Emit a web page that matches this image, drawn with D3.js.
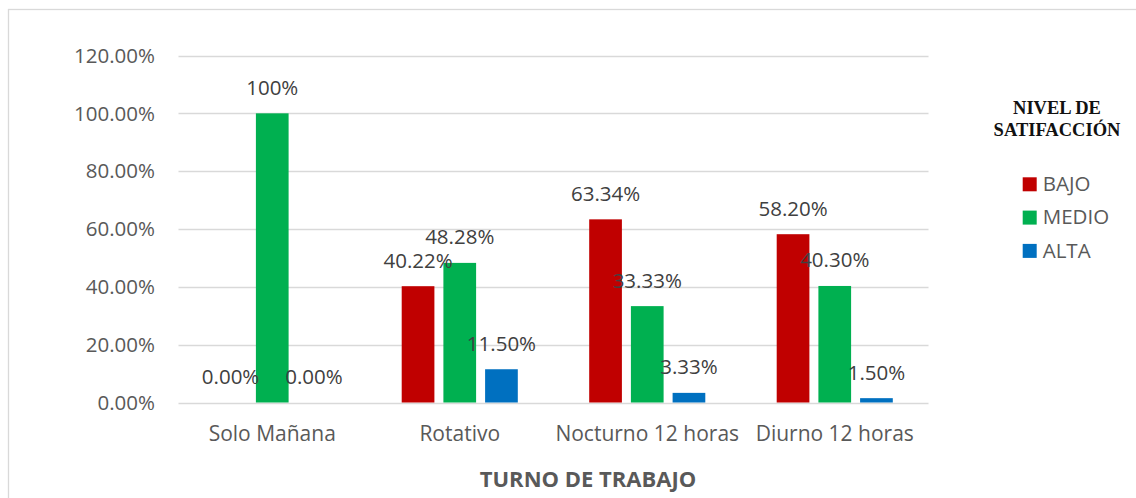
<!DOCTYPE html>
<html>
<head>
<meta charset="utf-8">
<script src="https://cdn.jsdelivr.net/npm/d3@7"></script>
<style>
  html, body { margin: 0; padding: 0; background: #fff; }
  svg { display: block; }
</style>
</head>
<body>
<svg id="chart" width="1136" height="498"></svg>
<script>
const categories = ["Solo Mañana", "Rotativo", "Nocturno 12 horas", "Diurno 12 horas"];
const seriesNames = ["BAJO", "MEDIO", "ALTA"];
const bajo  = [0.00, 40.22, 63.34, 58.20];
const medio = [100, 48.28, 33.33, 40.30];
const alta  = [0.00, 11.50, 3.33, 1.50];
const labelsBajo  = ["0.00%", "40.22%", "63.34%", "58.20%"];
const labelsMedio = ["100%", "48.28%", "33.33%", "40.30%"];
const labelsAlta  = ["0.00%", "11.50%", "3.33%", "1.50%"];
const yTicks = [0, 20, 40, 60, 80, 100, 120];
const colors = ["#C00000", "#00B050", "#0070C0"];
const xTitle = "TURNO DE TRABAJO";
const legendTitle = ["NIVEL DE", "SATIFACCIÓN"];

const seriesValues = [bajo, medio, alta];
const seriesLabels = [labelsBajo, labelsMedio, labelsAlta];

const svg = d3.select("#chart");
const font = "'Open Sans', 'Noto Sans', sans-serif";
const textColor = "#595959";

// chart border
svg.append("rect")
  .attr("x", 8.5).attr("y", 9.5)
  .attr("width", 1160).attr("height", 520)
  .attr("fill", "none").attr("stroke", "#d9d9d9").attr("stroke-width", 1.3);

const plotLeft = 178.5, plotRight = 928.5, plotTop = 55.5, plotBottom = 402.5;

const x0 = d3.scaleBand().domain(categories).range([plotLeft, plotRight]).paddingInner(0).paddingOuter(0);
const y = d3.scaleLinear().domain([0, 120]).range([plotBottom, plotTop]);

// gridlines
svg.append("g").selectAll("line").data(yTicks).join("line")
  .attr("x1", plotLeft).attr("x2", plotRight)
  .attr("y1", d => Math.round(y(d)) + 0.5).attr("y2", d => Math.round(y(d)) + 0.5)
  .attr("stroke", "#d9d9d9").attr("stroke-width", 1.4);

// y tick labels
svg.append("g").selectAll("text").data(yTicks).join("text")
  .attr("x", 155).attr("y", d => y(d) + 7.2)
  .attr("text-anchor", "end")
  .attr("font-family", font).attr("font-size", 20.5).attr("fill", textColor)
  .text(d => d.toFixed(2) + "%");

// bars
const barW = 32.7, gap = 9;
const offsets = [-(barW + gap), 0, barW + gap];

seriesValues.forEach((vals, si) => {
  const g = svg.append("g");
  g.selectAll("rect").data(categories).join("rect")
    .attr("x", (c) => x0(c) + x0.bandwidth() / 2 + offsets[si] - barW / 2)
    .attr("y", (c, i) => y(vals[i]))
    .attr("width", barW)
    .attr("height", (c, i) => y(0) - y(vals[i]))
    .attr("fill", colors[si]);
});

// data labels
seriesValues.forEach((vals, si) => {
  svg.append("g").selectAll("text").data(categories).join("text")
    .attr("x", (c) => x0(c) + x0.bandwidth() / 2 + offsets[si])
    .attr("y", (c, i) => y(vals[i]) - 18.5)
    .attr("text-anchor", "middle")
    .attr("font-family", font).attr("font-size", 20.5).attr("fill", "#404040")
    .text((c, i) => seriesLabels[si][i]);
});

// category labels
svg.append("g").selectAll("text").data(categories).join("text")
  .attr("x", c => x0(c) + x0.bandwidth() / 2)
  .attr("y", 440.7)
  .attr("text-anchor", "middle")
  .attr("font-family", font).attr("font-size", 21).attr("fill", textColor)
  .text(c => c);

// x axis title
svg.append("text")
  .attr("x", 588).attr("y", 487)
  .attr("text-anchor", "middle")
  .attr("font-family", font).attr("font-size", 22).attr("font-weight", "bold")
  .attr("fill", textColor)
  .text(xTitle);

// legend title
svg.append("g").selectAll("text").data(legendTitle).join("text")
  .attr("x", 1057).attr("y", (d, i) => 113.7 + i * 22)
  .attr("text-anchor", "middle")
  .attr("font-family", "'Liberation Serif', 'DejaVu Serif', serif")
  .attr("font-size", 18.5).attr("font-weight", "bold").attr("fill", "#111")
  .text(d => d);

// legend items
const leg = svg.append("g").selectAll("g").data(seriesNames).join("g")
  .attr("transform", (d, i) => `translate(1022.7, ${177.3 + i * 33.3})`);
leg.append("rect").attr("width", 14).attr("height", 14).attr("fill", (d, i) => colors[i]);
leg.append("text").attr("x", 20).attr("y", 13.6)
  .attr("font-family", font).attr("font-size", 20.5).attr("fill", textColor)
  .text(d => d);
</script>
</body>
</html>
